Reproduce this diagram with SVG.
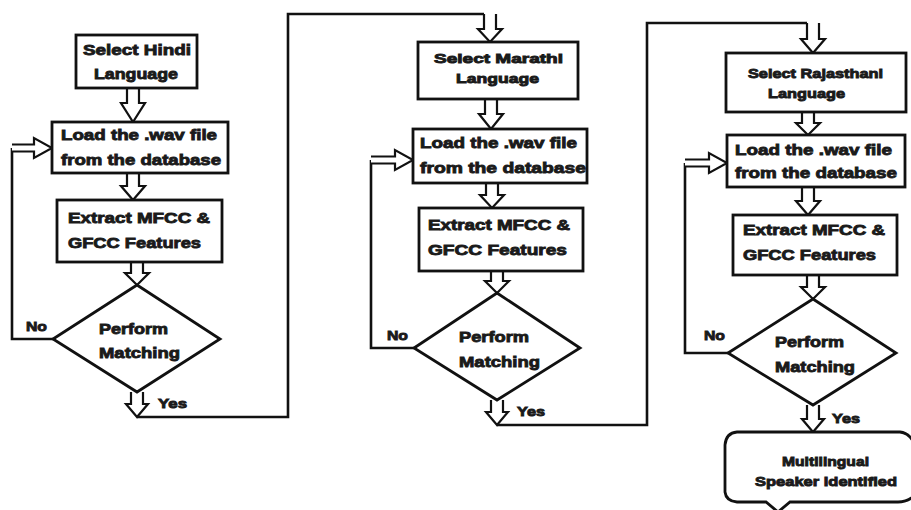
<svg xmlns="http://www.w3.org/2000/svg" width="911" height="510" viewBox="0 0 911 510">
  <style>
    .box { fill: #ffffff; stroke: #111111; stroke-width: 2.8; }
    .line { fill: none; stroke: #111111; stroke-width: 2.6; stroke-linejoin: miter; }
    .harrow { fill: #ffffff; stroke: #111111; stroke-width: 2.2; stroke-linejoin: miter; }
    .t { font-family: "Liberation Sans", Arial, sans-serif; font-weight: bold; fill: #1a1a1a; stroke: #1a1a1a; stroke-width: 0.9; paint-order: stroke; }
    .l { font-size: 15.5px; }
    .s { font-size: 13.5px; }
  </style>

  <rect width="911" height="510" fill="#ffffff"/>

  <!-- connectors: plain routing lines and hollow block arrows -->
  <g id="connectors">
    <!-- Hindi column -->
    <path class="harrow" d="M127,88 V103 H121 L133,122 L145,103 H139 V88"/>
    <path class="harrow" d="M127,173 V186 H121 L133,200 L145,186 H139 V173"/>
    <path class="harrow" d="M131,262 V273 H125 L137,285 L149,273 H143 V262"/>
    <path class="line" d="M53,339 H12 V148"/>
    <path class="harrow" d="M12,144.5 H34 V138 L52,148 L34,158 V151.5 H12"/>
    <path class="harrow" d="M131,392 V404 H126 L137,417 L148,404 H143 V392"/>
    <path class="line" d="M137,417 H288 V14 H484"/>

    <!-- Marathi column -->
    <path class="harrow" d="M484,14 V29 H478 L490,42 L502,29 H496 V14"/>
    <path class="harrow" d="M485,99 V114 H479 L491,129 L503,114 H497 V99"/>
    <path class="harrow" d="M486,183 V195 H480 L492,208 L504,195 H498 V183"/>
    <path class="harrow" d="M491,271 V281 H485 L497,293 L509,281 H503 V271"/>
    <path class="line" d="M414,348 H371 V160"/>
    <path class="harrow" d="M371,156.5 H395 V150 L413,160 L395,170 V163.5 H371"/>
    <path class="harrow" d="M491,400 V412 H486 L497,425 L508,412 H503 V400"/>
    <path class="line" d="M497,425 H647 V23 H807"/>

    <!-- Rajasthani column -->
    <path class="harrow" d="M807,23 V39 H801 L813,53 L825,39 H819 V23"/>
    <path class="harrow" d="M802,112 V123 H796 L808,135 L820,123 H814 V112"/>
    <path class="harrow" d="M802,187 V201 H796 L808,215 L820,201 H814 V187"/>
    <path class="harrow" d="M807,275 V287 H801 L813,299 L825,287 H819 V275"/>
    <path class="line" d="M728,353 H685 V163"/>
    <path class="harrow" d="M685,159.5 H709 V153 L727,163 L709,173 V166.5 H685"/>
    <path class="harrow" d="M807,405 V419 H802 L813,432 L824,419 H819 V405"/>
  </g>

  <!-- Hindi column nodes -->
  <g id="select-hindi">
    <rect class="box" x="76" y="35" width="121" height="53"/>
    <text class="t l" x="83" y="55" textLength="108" lengthAdjust="spacingAndGlyphs">Select Hindi</text>
    <text class="t l" x="94" y="79" textLength="84" lengthAdjust="spacingAndGlyphs">Language</text>
  </g>
  <g id="load-hindi">
    <rect class="box" x="52" y="122" width="176" height="51"/>
    <text class="t l" x="61" y="140" textLength="156" lengthAdjust="spacingAndGlyphs">Load the .wav file</text>
    <text class="t l" x="61" y="165" textLength="160" lengthAdjust="spacingAndGlyphs">from the database</text>
  </g>
  <g id="extract-hindi">
    <rect class="box" x="57" y="200" width="165" height="62"/>
    <text class="t l" x="68" y="223" textLength="142" lengthAdjust="spacingAndGlyphs">Extract MFCC &amp;</text>
    <text class="t l" x="68" y="248" textLength="133" lengthAdjust="spacingAndGlyphs">GFCC Features</text>
  </g>
  <g id="match-hindi">
    <polygon class="box" points="137,285 220,339 137,392 53,339"/>
    <text class="t l" x="99" y="334" textLength="69" lengthAdjust="spacingAndGlyphs">Perform</text>
    <text class="t l" x="99" y="358" textLength="81" lengthAdjust="spacingAndGlyphs">Matching</text>
    <text class="t s" x="26" y="331" textLength="21" lengthAdjust="spacingAndGlyphs">No</text>
    <text class="t s" x="158" y="408" textLength="29" lengthAdjust="spacingAndGlyphs">Yes</text>
  </g>

  <!-- Marathi column nodes -->
  <g id="select-marathi">
    <rect class="box" x="418" y="42" width="160" height="57"/>
    <text class="t s" x="434" y="63" textLength="129" lengthAdjust="spacingAndGlyphs">Select Marathi</text>
    <text class="t s" x="456" y="83" textLength="83" lengthAdjust="spacingAndGlyphs">Language</text>
  </g>
  <g id="load-marathi">
    <rect class="box" x="413" y="129" width="174" height="54"/>
    <text class="t l" x="420" y="148" textLength="157" lengthAdjust="spacingAndGlyphs">Load the .wav file</text>
    <text class="t l" x="420" y="173" textLength="166" lengthAdjust="spacingAndGlyphs">from the database</text>
  </g>
  <g id="extract-marathi">
    <rect class="box" x="419" y="208" width="164" height="63"/>
    <text class="t l" x="428" y="230" textLength="142" lengthAdjust="spacingAndGlyphs">Extract MFCC &amp;</text>
    <text class="t l" x="428" y="255" textLength="139" lengthAdjust="spacingAndGlyphs">GFCC Features</text>
  </g>
  <g id="match-marathi">
    <polygon class="box" points="497,293 580,348 497,400 414,348"/>
    <text class="t l" x="459" y="342" textLength="70" lengthAdjust="spacingAndGlyphs">Perform</text>
    <text class="t l" x="459" y="367" textLength="81" lengthAdjust="spacingAndGlyphs">Matching</text>
    <text class="t s" x="387" y="340" textLength="21" lengthAdjust="spacingAndGlyphs">No</text>
    <text class="t s" x="517" y="416" textLength="28" lengthAdjust="spacingAndGlyphs">Yes</text>
  </g>

  <!-- Rajasthani column nodes -->
  <g id="select-rajasthani">
    <rect class="box" x="726" y="53" width="180" height="59"/>
    <text class="t s" x="748" y="78" textLength="135" lengthAdjust="spacingAndGlyphs">Select Rajasthani</text>
    <text class="t s" x="768" y="98" textLength="77" lengthAdjust="spacingAndGlyphs">Language</text>
  </g>
  <g id="load-rajasthani">
    <rect class="box" x="727" y="135" width="178" height="52"/>
    <text class="t l" x="735" y="155" textLength="157" lengthAdjust="spacingAndGlyphs">Load the .wav file</text>
    <text class="t l" x="735" y="178" textLength="162" lengthAdjust="spacingAndGlyphs">from the database</text>
  </g>
  <g id="extract-rajasthani">
    <rect class="box" x="733" y="215" width="164" height="60"/>
    <text class="t l" x="743" y="235" textLength="142" lengthAdjust="spacingAndGlyphs">Extract MFCC &amp;</text>
    <text class="t l" x="743" y="260" textLength="133" lengthAdjust="spacingAndGlyphs">GFCC Features</text>
  </g>
  <g id="match-rajasthani">
    <polygon class="box" points="813,299 896,353 813,405 728,353"/>
    <text class="t l" x="775" y="347" textLength="69" lengthAdjust="spacingAndGlyphs">Perform</text>
    <text class="t l" x="775" y="372" textLength="80" lengthAdjust="spacingAndGlyphs">Matching</text>
    <text class="t s" x="704" y="340" textLength="21" lengthAdjust="spacingAndGlyphs">No</text>
    <text class="t s" x="832" y="423" textLength="28" lengthAdjust="spacingAndGlyphs">Yes</text>
  </g>

  <!-- terminal node -->
  <g id="speaker-identified">
    <path class="box" d="M737,432 H900 Q910,433 915,445 V495 Q908,502 898,502 H790 L778,512 L766,502 H737 Q726,501 725,492 V445 Q726,433 737,432 Z"/>
    <text class="t s" x="782" y="466" textLength="87" lengthAdjust="spacingAndGlyphs">Multilingual</text>
    <text class="t s" x="755" y="486" textLength="142" lengthAdjust="spacingAndGlyphs">Speaker Identified</text>
  </g>
</svg>
